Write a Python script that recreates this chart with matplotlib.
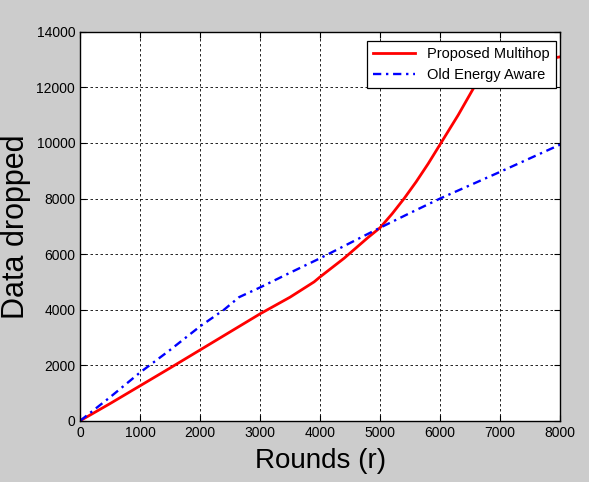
import matplotlib.pyplot as plt
import numpy as np

# values
rounds_red = [0, 500, 1000, 1500, 2000, 2500, 3000, 3500, 3900, 4000, 4400, 4800,
              5000, 5200, 5400, 5600, 5800, 6000, 6300, 6630, 7000, 7500, 8000]
proposed = [0, 620, 1260, 1900, 2550, 3200, 3850, 4450, 5000, 5180, 5850, 6600,
            6950, 7450, 8000, 8600, 9250, 9950, 11000, 12250, 12600, 12900, 13100]

rounds_blue = [0, 500, 1000, 1500, 2000, 2400, 2650, 3000, 3500, 4000, 4500, 5000,
               5500, 6000, 6500, 7000, 7500, 8000]
old_aware = [0, 850, 1740, 2550, 3400, 4000, 4450, 4800, 5330, 5850, 6400, 6950,
             7480, 8000, 8480, 8960, 9450, 9940]

xticks = np.arange(0, 8001, 1000)
yticks = np.arange(0, 14001, 2000)

plt.rcParams['font.family'] = ['Liberation Sans', 'DejaVu Sans']

fig = plt.figure(figsize=(5.89, 4.82), dpi=100, facecolor='#cccccc')
ax = fig.add_axes([0.136, 0.127, 0.815, 0.807])
ax.plot(rounds_red, proposed, color='#ff0000', lw=2, label='Proposed Multihop')
ax.plot(rounds_blue, old_aware, color='#0000ff', lw=1.7, ls=(0, (3.5, 2, 1, 2)),
        label='Old Energy Aware')

ax.set_xlim(0, 8000)
ax.set_ylim(0, 14000)
ax.set_xticks(xticks)
ax.set_yticks(yticks)
ax.tick_params(direction='in', top=True, right=True, labelsize=10, length=4)
ax.grid(True, color='black', ls=(0, (3, 3)), lw=0.6)
for s in ax.spines.values():
    s.set_linewidth(1)

ax.set_xlabel('Rounds (r)', fontsize=20, labelpad=6)
ax.set_ylabel('Data dropped', fontsize=22, labelpad=4)

leg = ax.legend(loc='upper right', bbox_to_anchor=(0.992, 0.977), fontsize=10.5,
                fancybox=False, framealpha=1, edgecolor='black', borderaxespad=0,
                handlelength=2.9, labelspacing=0.45, borderpad=0.45)
leg.get_frame().set_linewidth(0.9)

fig.savefig('out.png', dpi=100, facecolor=fig.get_facecolor())
